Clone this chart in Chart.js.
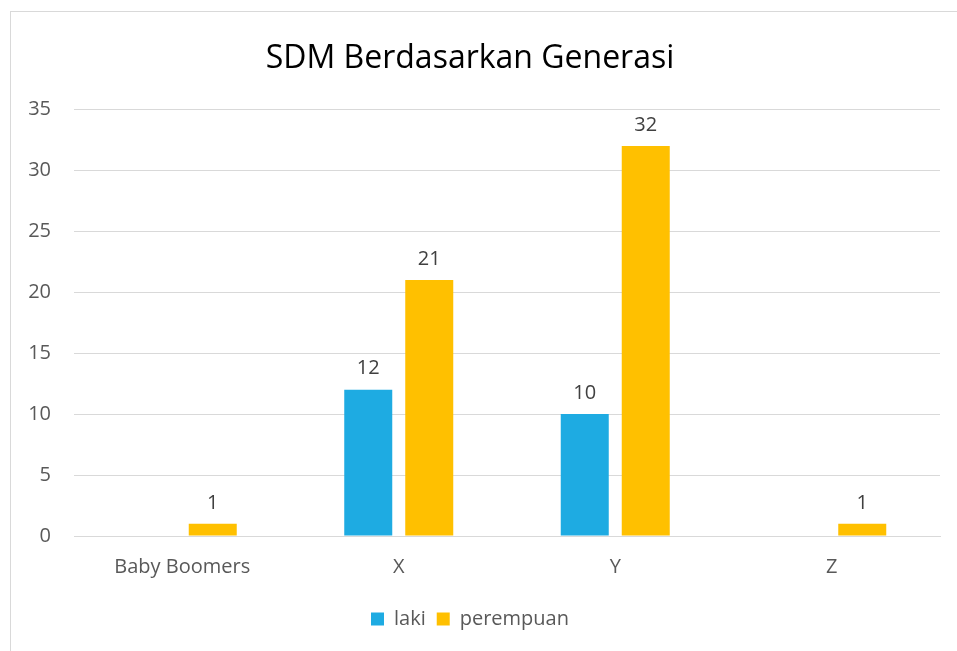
<!DOCTYPE html>
<html>
<head>
<meta charset="utf-8">
<script src="https://cdn.jsdelivr.net/npm/chart.js@4"></script>
<style>
  html, body { margin: 0; padding: 0; background: #fff; overflow: hidden; }
  #frame { position: absolute; left: 10px; top: 11px; width: 1000px; height: 700px;
           border-left: 1px solid #d9d9d9; border-top: 1px solid #d9d9d9; }
  #wrap { position: absolute; left: 0; top: 0; width: 957px; height: 651px; }
</style>
</head>
<body>
<div id="frame"></div>
<div id="wrap"><canvas id="chart"></canvas></div>
<script>
// data
const categories = ["Baby Boomers", "X", "Y", "Z"];
const laki = [null, 12, 10, null];
const perempuan = [1, 21, 32, 1];
const yTicks = [0, 5, 10, 15, 20, 25, 30, 35];

const FONT = "'Open Sans', sans-serif";

// simple value labels above each bar
const barLabels = {
    id: "barLabels",
    afterDatasetsDraw(chart) {
        const ctx = chart.ctx;
        ctx.save();
        ctx.font = "20px " + FONT;
        ctx.fillStyle = "#404040";
        ctx.textAlign = "center";
        ctx.textBaseline = "bottom";
        chart.data.datasets.forEach((ds, i) => {
            chart.getDatasetMeta(i).data.forEach((bar, j) => {
                const v = ds.data[j];
                if (v === null || v === undefined) return;
                ctx.fillText(String(v), bar.x, bar.y - 11);
            });
        });
        ctx.restore();
    }
};

new Chart(document.getElementById("chart"), {
    type: "bar",
    data: {
        labels: categories,
        datasets: [
            { label: "laki", data: laki, backgroundColor: "#1EABE2" },
            { label: "perempuan", data: perempuan, backgroundColor: "#FFC000" }
        ]
    },
    options: {
        responsive: true,
        maintainAspectRatio: false,
        animation: false,
        categoryPercentage: 0.5635,
        barPercentage: 0.787,
        layout: { padding: { left: 0, right: 17, top: 30, bottom: 12 } },
        plugins: {
            title: {
                display: true,
                text: "SDM Berdasarkan Generasi",
                color: "#000",
                font: { family: FONT, size: 32, weight: "normal" },
                padding: { top: 10, bottom: 31 }
            },
            legend: {
                position: "bottom",
                labels: {
                    color: "#595959",
                    font: { family: FONT, size: 20 },
                    boxWidth: 13,
                    boxHeight: 13,
                    padding: 11
                }
            },
            tooltip: { enabled: false }
        },
        scales: {
            y: {
                min: 0,
                max: 35,
                afterBuildTicks: (s) => { s.ticks = yTicks.map(v => ({ value: v })); },
                afterFit: (s) => { s.width = 74; },
                border: { display: false },
                grid: { color: "#d9d9d9", drawTicks: false },
                ticks: { color: "#595959", font: { family: FONT, size: 20 }, padding: 23 }
            },
            x: {
                border: { color: "#d9d9d9" },
                grid: { display: false, drawTicks: false },
                ticks: { color: "#595959", font: { family: FONT, size: 20 }, padding: 19 }
            }
        }
    },
    plugins: [barLabels]
});
</script>
</body>
</html>
